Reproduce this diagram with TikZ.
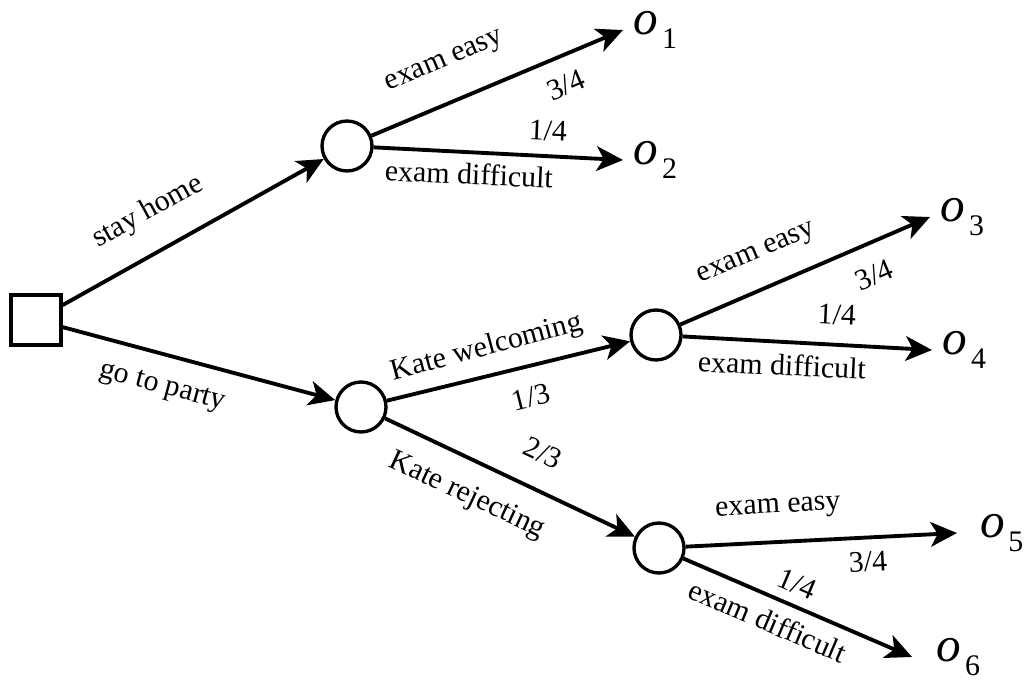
\documentclass[tikz,border=0pt]{standalone}
\usepackage{fontspec}
\setmainfont{Liberation Serif}
\usetikzlibrary{arrows.meta, positioning}
\newcommand{\outc}[1]{\textit{o}\kern2pt\raisebox{-8pt}{\fontsize{17}{17}\selectfont #1}}

\begin{document}
\begin{tikzpicture}[
    x=0.02cm, y=-0.02cm,
    every node/.style={font=\fontsize{17}{20}\selectfont},
    decision/.style={rectangle, draw, line width=1.9pt, minimum size=1.0cm, inner sep=0pt},
    chance/.style={circle, draw, line width=1.9pt, minimum size=1.0cm, inner sep=0pt},
    outcome/.style={anchor=west, inner xsep=6pt, inner ysep=0pt, font=\fontsize{28}{28}\selectfont},
    branch/.style={line width=2.2pt, -{Stealth[length=15pt, width=14pt, inset=4pt]}},
    elabel/.style={inner sep=0pt},
]
\useasboundingbox (0,0) rectangle (1030,689);
% decision and chance nodes
\node[decision] (root) at (36,320) {};
\node[chance] (home) at (347,146) {};
\node[chance] (party) at (361,407) {};
\node[chance] (welcome) at (656,335) {};
\node[chance] (reject) at (659,548) {};
% outcomes
\node[outcome] (o1) at (623,30) {\outc{1}};
\node[outcome] (o2) at (623,160) {\outc{2}};
\node[outcome] (o3) at (930,217) {\outc{3}};
\node[outcome] (o4) at (932,350) {\outc{4}};
\node[outcome, inner xsep=13pt] (o5) at (957,533) {\outc{5}};
\node[outcome, inner xsep=14pt] (o6) at (912,657) {\outc{6}};
% branches
\draw[branch] (root) -- (home);
\draw[branch] (root) -- (party);
\draw[branch] (home) -- (o1.west);
\draw[branch] (home) -- (o2.west);
\draw[branch] (party) -- (welcome);
\draw[branch] (party) -- (reject);
\draw[branch] (welcome) -- (o3.west);
\draw[branch] (welcome) -- (o4.west);
\draw[branch] (reject) -- (o5.west);
\draw[branch] (reject) -- (o6.west);
% labels
\node[elabel, rotate=29] (lhome) at (148,212) {stay home};
\node[elabel, rotate=-15] (lparty) at (162,388) {go to party};
\node[elabel, rotate=23] (le1) at (445,63) {exam easy};
\node[elabel, rotate=23] (pe1) at (566,85) {3/4};
\node[elabel, rotate=-2.5] (pd1) at (548,131) {1/4};
\node[elabel, rotate=-2.5] (ld1) at (469,174) {exam difficult};
\node[elabel, rotate=15] (lwel) at (487,348) {Kate welcoming};
\node[elabel, rotate=14] (pwel) at (531,397) {1/3};
\node[elabel, rotate=-25] (prej) at (543,453) {2/3};
\node[elabel, rotate=-25] (lrej) at (467,496) {Kate rejecting};
\node[elabel, rotate=23] (le2) at (757,255) {exam easy};
\node[elabel, rotate=23] (pe2) at (874,275) {3/4};
\node[elabel, rotate=-2.7] (pd2) at (837,315) {1/4};
\node[elabel, rotate=-2.7] (ld2) at (782,365) {exam difficult};
\node[elabel, rotate=3] (le3) at (778,509) {exam easy};
\node[elabel, rotate=3] (pe3) at (868,562) {3/4};
\node[elabel, rotate=-23] (pd3) at (797,584) {1/4};
\node[elabel, rotate=-23] (ld3) at (768,621) {exam difficult};
\end{tikzpicture}
\end{document}
